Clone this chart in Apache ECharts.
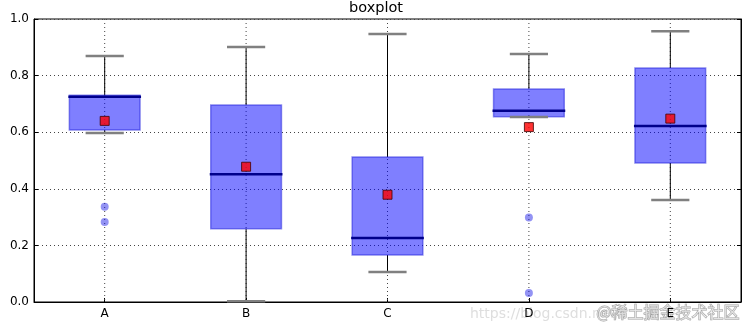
<!DOCTYPE html>
<html>
<head>
<meta charset="utf-8">
<script src="https://cdn.jsdelivr.net/npm/echarts@6/dist/echarts.min.js"></script>
<style>html,body{margin:0;padding:0;background:#fff}#c{width:752px;height:332px}</style>
</head>
<body>
<div id="c"></div>
<script>
const categories = ['A', 'B', 'C', 'D', 'E'];
const whiskerLow = [0.597, 0.003, 0.106, 0.654, 0.360];
const q1 = [0.608, 0.259, 0.166, 0.655, 0.491];
const median = [0.725, 0.451, 0.226, 0.676, 0.622];
const q3 = [0.731, 0.696, 0.512, 0.753, 0.827];
const whiskerHigh = [0.869, 0.901, 0.947, 0.876, 0.957];
const means = [0.640, 0.478, 0.379, 0.618, 0.648];
const outlierCats = ['A', 'A', 'D', 'D'];
const outlierVals = [0.337, 0.283, 0.299, 0.032];
const yTicks = ['0.0', '0.2', '0.4', '0.6', '0.8', '1.0'];

const boxData = categories.map((c, i) => [i, whiskerLow[i], q1[i], median[i], q3[i], whiskerHigh[i]]);
const meanData = categories.map((c, i) => [i, means[i]]);
const outlierData = outlierCats.map((c, i) => [categories.indexOf(c), outlierVals[i]]);

const font = 'DejaVu Sans';
const chart = echarts.init(document.getElementById('c'), null, {renderer: 'canvas'});

function renderBox(params, api) {
  const x = api.value(0);
  const cs = params.coordSys;
  const pLow = api.coord([x, api.value(1)]);
  const pQ1 = api.coord([x, api.value(2)]);
  const pMed = api.coord([x, api.value(3)]);
  const pQ3 = api.coord([x, api.value(4)]);
  const pHigh = api.coord([x, api.value(5)]);
  const band = api.size([1, 0])[0];
  const bw = band * 0.5;
  const cw = band * 0.27;
  const cx = pMed[0];
  return {
    type: 'group',
    children: [
      {type: 'line', shape: {x1: cx, y1: cs.y, x2: cx, y2: cs.y + cs.height},
       style: {stroke: '#444', lineWidth: 1, lineDash: [1, 3]}},
      {type: 'line', shape: {x1: cx, y1: pQ3[1], x2: cx, y2: pHigh[1]},
       style: {stroke: '#000', lineWidth: 1}},
      {type: 'line', shape: {x1: cx, y1: pQ1[1], x2: cx, y2: pLow[1]},
       style: {stroke: '#000', lineWidth: 1}},
      {type: 'rect', shape: {x: cx - bw / 2, y: pQ3[1], width: bw, height: pQ1[1] - pQ3[1]},
       style: {fill: 'rgba(0,0,255,0.5)', stroke: 'rgba(30,30,220,0.5)', lineWidth: 1.5}},
      {type: 'line', shape: {x1: cx - bw / 2 - 1, y1: pMed[1], x2: cx + bw / 2 + 1, y2: pMed[1]},
       style: {stroke: '#00008b', lineWidth: 2.5}},
      {type: 'line', shape: {x1: cx - cw / 2, y1: pHigh[1], x2: cx + cw / 2, y2: pHigh[1]},
       style: {stroke: '#808080', lineWidth: 2.5}},
      {type: 'line', shape: {x1: cx - cw / 2, y1: pLow[1], x2: cx + cw / 2, y2: pLow[1]},
       style: {stroke: '#808080', lineWidth: 2.5}}
    ]
  };
}

chart.setOption({
  animation: false,
  backgroundColor: '#fff',
  title: {
    text: 'boxplot', left: 'center', top: 0, padding: 0,
    textStyle: {fontFamily: font, fontSize: 14.5, fontWeight: 'normal', color: '#000', lineHeight: 17}
  },
  grid: {left: 34, right: 11, top: 19, bottom: 30, show: true, borderColor: '#000', borderWidth: 1, backgroundColor: 'transparent'},
  xAxis: {
    type: 'category', data: categories, boundaryGap: true,
    axisLine: {show: true, lineStyle: {color: '#000', width: 1}},
    axisTick: {show: true, inside: true, alignWithLabel: true, length: 4, lineStyle: {color: '#000'}},
    axisLabel: {fontFamily: font, fontSize: 12, color: '#000', margin: 6},
    splitLine: {show: false}
  },
  yAxis: [{
    type: 'value', min: 0, max: 1, interval: 0.2,
    axisLine: {show: true, lineStyle: {color: '#000', width: 1}},
    axisTick: {show: true, inside: true, length: 4, lineStyle: {color: '#000'}},
    axisLabel: {fontFamily: font, fontSize: 12, color: '#000', margin: 5,
      formatter: v => yTicks[Math.round(v / 0.2)]},
    splitLine: {show: true, lineStyle: {color: '#444', width: 1, type: [1, 3]}}
  }, {
    type: 'value', min: 0, max: 1, interval: 0.2, position: 'right',
    axisLine: {show: true, lineStyle: {color: '#000', width: 1}},
    axisTick: {show: true, inside: true, length: 4, lineStyle: {color: '#000'}},
    axisLabel: {show: false}, splitLine: {show: false}
  }],
  series: [
    {type: 'custom', renderItem: renderBox, data: boxData, encode: {x: 0, y: [1, 2, 3, 4, 5]}, z: 2},
    {type: 'scatter', data: outlierData, symbol: 'circle', symbolSize: 8,
     itemStyle: {color: 'rgba(10,10,230,0.55)', borderWidth: 0}, z: 3},
    {type: 'scatter', data: meanData, symbol: 'rect', symbolSize: 9,
     itemStyle: {color: '#ff0000', borderColor: '#400000', borderWidth: 1}, z: 4}
  ],
  graphic: [
    {type: 'text', left: 470, top: 307, silent: true,
     style: {text: 'https://blog.csdn.net/', fontFamily: font, fontSize: 14, fill: 'rgba(190,190,190,0.5)'}},
    {type: 'text', right: 12, top: 303, silent: true,
     style: {text: '@稀土掘金技术社区', fontFamily: 'Noto Sans CJK SC', fontSize: 16, fill: 'rgba(255,255,255,0.6)', stroke: 'rgba(120,120,120,0.7)', lineWidth: 1}}
  ]
});
</script>
</body>
</html>
